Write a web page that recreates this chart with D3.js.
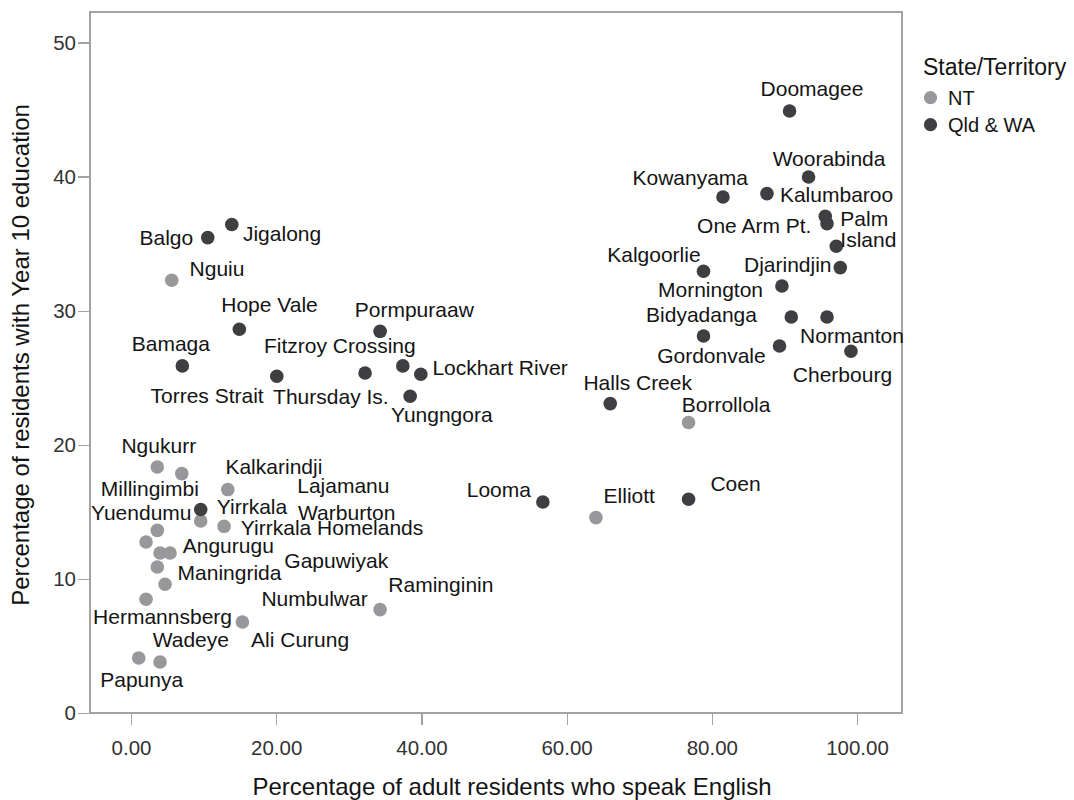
<!DOCTYPE html>
<meta charset="utf-8">
<style>
body { margin: 0; background: #fff; }
svg { font-family: "Liberation Sans", Arial, sans-serif; }

.axis text {
  font-size: 20.5px;
  fill: #333;
}
.axis line {
  stroke: #a3a3a3;
  stroke-width: 1.2px;
  shape-rendering: crispEdges;
}
.axis path { display: none; }

.frame {
  fill: none;
  stroke: #a3a3a3;
  stroke-width: 1.2px;
  shape-rendering: crispEdges;
}

.dot--nt { fill: #98989b; }
.dot--qw { fill: #3f3f42; }

.label { font-size: 21px; fill: #141414; }
.title { font-size: 24px; fill: #141414; }
.legend-title { font-size: 23px; fill: #141414; }
.legend-item { font-size: 20px; fill: #141414; }
</style>
<svg width="1074" height="800"></svg>
<script src="https://d3js.org/d3.v7.min.js"></script>
<script>
// NT communities
var ntNames = ["Ngukurr", "Millingimbi", "Kalkarindji", "Yirrkala", "Yirrkala Homelands",
               "Yuendumu", "Lajamanu", "Angurugu", "Gapuwiyak", "Maningrida", "Numbulwar",
               "Hermannsberg", "Ali Curung", "Raminginin", "Wadeye", "Papunya", "Nguiu",
               "Elliott", "Borrollola"];
var ntEnglish = [3.62, 6.99, 13.33, 9.60, 12.82, 3.62, 2.07, 5.37, 4.00, 3.62, 4.69,
                 2.07, 15.34, 34.31, 4.00, 1.06, 5.61, 64.04, 76.80];
var ntYear10 = [18.34, 17.85, 16.66, 14.32, 13.92, 13.62, 12.75, 11.93, 11.93, 10.89, 9.60,
                8.48, 6.79, 7.71, 3.80, 4.10, 32.27, 14.57, 21.66];

// Qld & WA communities ("" = point drawn without a label)
var qwNames = ["Warburton", "Balgo", "Jigalong", "Hope Vale", "Pormpuraaw", "Bamaga",
               "Torres Strait", "Thursday Is.", "Fitzroy Crossing", "Lockhart River", "Yungngora",
               "Doomagee", "Woorabinda", "Kowanyama", "Kalumbaroo", "One Arm Pt.", "Palm\nIsland",
               "", "Kalgoorlie", "Djarindjin", "Mornington", "", "Normanton", "Bidyadanga",
               "Gordonvale", "Cherbourg", "Halls Creek", "Looma", "Coen"];
var qwEnglish = [9.60, 10.57, 13.88, 14.92, 34.31, 7.07, 20.08, 32.24, 37.44, 39.92, 38.45,
                 90.71, 93.33, 81.54, 87.60, 95.63, 95.87, 97.15, 78.86, 97.70, 89.66, 90.95,
                 95.87, 78.86, 89.33, 99.17, 66.01, 56.73, 76.80];
var qwYear10 = [15.17, 35.45, 36.42, 28.61, 28.46, 25.88, 25.11, 25.35, 25.88, 25.26, 23.62,
                44.89, 39.97, 38.48, 38.73, 37.04, 36.49, 34.80, 32.94, 33.21, 31.84, 29.53,
                29.53, 28.11, 27.37, 26.97, 23.07, 15.73, 15.94];

var groups = ["NT", "Qld & WA"];
var xTicks = [0, 20, 40, 60, 80, 100];
var yTicks = [0, 10, 20, 30, 40, 50];

// where each label sits relative to its dot (pixels)
var labelOffsets = {
  "Ngukurr": [1.5, -21.4], "Millingimbi": [-31.9, 14.7], "Kalkarindji": [46.1, -22.6],
  "Yirrkala": [51.3, -14.7], "Yirrkala Homelands": [108, 1], "Yuendumu": [-16, -17.7],
  "Lajamanu": [197.3, -56.5], "Angurugu": [58.3, -7.4], "Gapuwiyak": [176.2, 7.6],
  "Maningrida": [72.2, 5.3], "Numbulwar": [149.5, 14.7], "Hermannsberg": [16.5, 17.3],
  "Ali Curung": [57.7, 17.3], "Raminginin": [60.8, -25.3], "Wadeye": [30.8, -22.7],
  "Papunya": [3, 21.6], "Nguiu": [45.3, -11.3], "Elliott": [33.3, -22], "Borrollola": [37.5, -18.3],
  "Warburton": [146, 3], "Balgo": [-41.4, 0], "Jigalong": [50.3, 9.4], "Hope Vale": [30.2, -25.3],
  "Pormpuraaw": [34.2, -22], "Bamaga": [-11.5, -22], "Torres Strait": [-69.7, 19.7],
  "Thursday Is.": [-34.2, 23], "Fitzroy Crossing": [-63, -20], "Lockhart River": [79.3, -6.7],
  "Yungngora": [31.7, 18], "Doomagee": [22.4, -22], "Woorabinda": [20.5, -18.7],
  "Kowanyama": [-32.7, -19.4], "Kalumbaroo": [69.6, 1], "One Arm Pt.": [-71, 9.3],
  "Palm\nIsland": [13.3, -6], "Kalgoorlie": [-49.6, -17], "Djarindjin": [-52.5, -3.3],
  "Mornington": [-71.4, 3.3], "Normanton": [25, 19], "Bidyadanga": [-2, -21.4],
  "Gordonvale": [-68.1, 9.3], "Cherbourg": [-8.5, 22.7], "Halls Creek": [27.5, -21.3],
  "Looma": [-44, -13], "Coen": [47, -15.7]
};

var svg = d3.select("svg"),
    panel = {left: 90, top: 12, right: 902, bottom: 713};

var x = d3.scaleLinear()
    .domain([-5.65, 106.2])
    .range([panel.left, panel.right]);

var y = d3.scaleLinear()
    .domain([0, 52.27])
    .range([panel.bottom, panel.top]);

var color = d3.scaleOrdinal()
    .domain(groups)
    .range(["dot--nt", "dot--qw"]);

function rows(names, xs, ys, group) {
  return names.map(function(n, i) {
    return {name: n, english: xs[i], year10: ys[i], group: group};
  });
}
var nt = rows(ntNames, ntEnglish, ntYear10, groups[0]);
var qw = rows(qwNames, qwEnglish, qwYear10, groups[1]);
var all = nt.concat(qw);

svg.append("rect")
    .attr("class", "frame")
    .attr("x", panel.left)
    .attr("y", panel.top)
    .attr("width", panel.right - panel.left)
    .attr("height", panel.bottom - panel.top);

svg.append("g")
    .attr("class", "axis axis--y")
    .attr("transform", "translate(" + panel.left + ",0)")
    .call(d3.axisLeft(y).tickValues(yTicks).tickSize(12).tickPadding(2)
      .tickFormat(d3.format("d")));

svg.append("g")
    .attr("class", "axis axis--x")
    .attr("transform", "translate(0," + panel.bottom + ")")
    .call(d3.axisBottom(x).tickValues(xTicks).tickSize(12).tickPadding(15)
      .tickFormat(d3.format(".2f")));

// dots: NT first so the darker group sits on top
svg.append("g").selectAll("circle")
    .data(all)
  .enter().append("circle")
    .attr("class", function(d) { return color(d.group); })
    .attr("cx", function(d) { return x(d.english); })
    .attr("cy", function(d) { return y(d.year10); })
    .attr("r", 6.8);

var labels = svg.append("g").selectAll("text")
    .data(all.filter(function(d) { return d.name !== ""; }))
  .enter().append("text")
    .attr("class", "label")
    .attr("dominant-baseline", "central")
    .attr("text-anchor", function(d) { return d.name.indexOf("\n") >= 0 ? "start" : "middle"; })
    .attr("x", function(d) { return x(d.english) + labelOffsets[d.name][0]; })
    .attr("y", function(d) { return y(d.year10) + labelOffsets[d.name][1]; });

labels.each(function(d) {
  var t = d3.select(this),
      lines = d.name.split("\n");
  if (lines.length === 1) { t.text(d.name); return; }
  lines.forEach(function(line, i) {
    t.append("tspan")
        .attr("x", t.attr("x"))
        .attr("dy", i === 0 ? 0 : 21)
        .text(line);
  });
});

// axis titles
svg.append("text")
    .attr("class", "title")
    .attr("text-anchor", "middle")
    .attr("x", 512)
    .attr("y", 795)
    .text("Percentage of adult residents who speak English");

svg.append("text")
    .attr("class", "title")
    .attr("text-anchor", "middle")
    .attr("transform", "translate(29,355) rotate(-90)")
    .text("Percentage of residents with Year 10 education");

// legend
var legend = svg.append("g").attr("class", "legend");
legend.append("text")
    .attr("class", "legend-title")
    .attr("x", 923)
    .attr("y", 75)
    .text("State/Territory");

var item = legend.selectAll("g.item")
    .data(groups)
  .enter().append("g")
    .attr("class", "item")
    .attr("transform", function(d, i) { return "translate(930.5," + (97.7 + i * 27) + ")"; });
item.append("circle")
    .attr("class", function(d) { return color(d); })
    .attr("r", 6.6);
item.append("text")
    .attr("class", "legend-item")
    .attr("x", 17.5)
    .attr("dominant-baseline", "central")
    .text(function(d) { return d; });
</script>
